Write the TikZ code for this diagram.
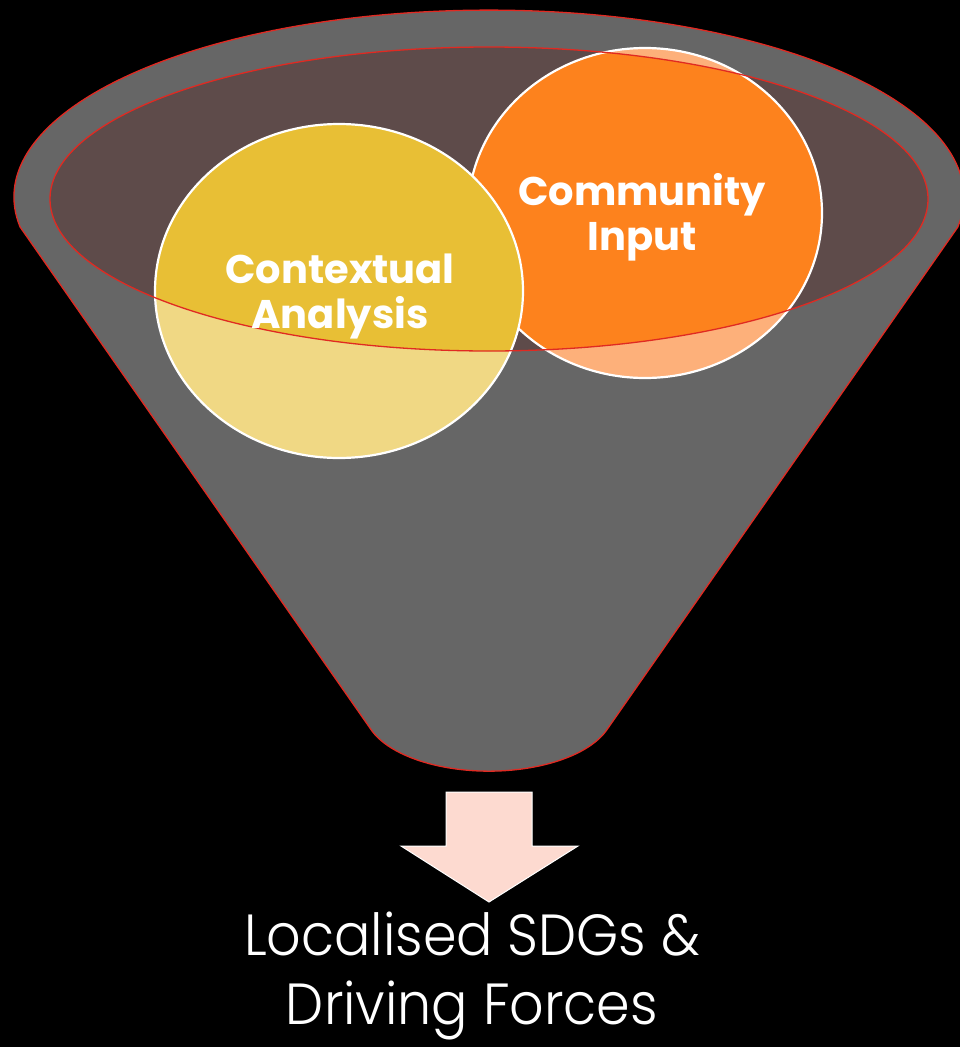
\documentclass[tikz,border=0pt]{standalone}
\usepackage{fontspec}
\setmainfont{Poppins}
\newfontfamily\thinfont[FakeStretch=0.93]{Poppins Light}
\usetikzlibrary{calc}
\definecolor{bg}{HTML}{000000}
\definecolor{funnelgray}{HTML}{666666}
\definecolor{rimred}{HTML}{E02A22}
\definecolor{mouth}{HTML}{5E4B4A}
\definecolor{yellowdeep}{HTML}{E8BF35}
\definecolor{yellowpale}{HTML}{F0D884}
\definecolor{orangedeep}{HTML}{FD821D}
\definecolor{orangepale}{HTML}{FDB07A}
\definecolor{arrowpink}{HTML}{FDDAD0}
\tikzset{
  rim/.style={draw=rimred, line width=1.3pt},
  disc/.style={draw=white, line width=2.2pt},
  disclabel/.style={text=white, font=\bfseries\fontsize{40}{45}\selectfont, align=center, inner sep=0pt},
  outlabel/.style={text=white, font=\thinfont\fontsize{58}{69}\selectfont, align=center, inner sep=0pt}
}
\begin{document}
\begin{tikzpicture}[x=1pt, y=-1pt]
  % page
  \fill[bg] (0,0) rectangle (960,1047);
  \useasboundingbox (0,0) rectangle (960,1047);

  % funnel body: rim arc, two sides and the spout
  \coordinate (topL) at (20.1,227);
  \coordinate (spoutL) at (372,731);
  \coordinate (spoutR) at (606,731);
  \fill[funnelgray] (topL) arc[start angle=170.8, end angle=369.2, x radius=475, y radius=187]
    -- (spoutR) arc[start angle=20, end angle=160, x radius=124.5, y radius=61] -- cycle;
  \draw[rim] (topL) arc[start angle=170.8, end angle=369.2, x radius=475, y radius=187]
    -- (spoutR) arc[start angle=20, end angle=160, x radius=124.5, y radius=61] -- cycle;

  % mouth of the funnel
  \fill[mouth] (489,199) ellipse[x radius=439, y radius=152];

  % community input disc
  \fill[orangepale] (645,213) ellipse[x radius=177, y radius=165];
  \begin{scope}
    \clip (489,199) ellipse[x radius=439, y radius=152];
    \fill[orangedeep] (645,213) ellipse[x radius=177, y radius=165];
  \end{scope}
  \draw[disc] (645,213) ellipse[x radius=177, y radius=165];

  % contextual analysis disc
  \fill[yellowpale] (339,291) ellipse[x radius=184, y radius=167];
  \begin{scope}
    \clip (489,199) ellipse[x radius=439, y radius=152];
    \fill[yellowdeep] (339,291) ellipse[x radius=184, y radius=167];
  \end{scope}
  \draw[disc] (339,291) ellipse[x radius=184, y radius=167];

  % rim of the mouth
  \draw[rim] (489,199) ellipse[x radius=439, y radius=152];

  % labels (base = baseline of the last line)
  \node[disclabel, anchor=base] (ctx) at (340,328) {Contextual\\Analysis};
  \node[disclabel, anchor=base] (com) at (642,250) {Community\\Input};

  % output arrow
  \coordinate (aTL) at (446,792);
  \fill[arrowpink, draw=white, line width=1pt] (aTL) -- (532,792) -- (532,846) -- (578,846)
    -- (489,902) -- (401,846) -- (446,846) -- cycle;

  \node[outlabel, anchor=base] (out) at (472,1024) {Localised SDGs \&\\Driving Forces};
\end{tikzpicture}
\end{document}
